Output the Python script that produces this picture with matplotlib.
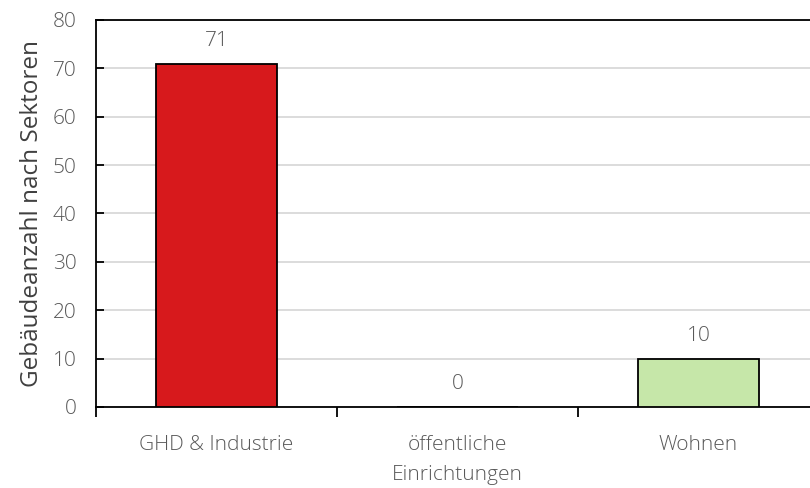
import numpy as np
import matplotlib.pyplot as plt
from matplotlib.ticker import FixedLocator

categories = ['GHD & Industrie', 'öffentliche\nEinrichtungen', 'Wohnen']
counts = [71, 0, 10]
colors = ['#d7191c', '#ffffff', '#c6e7a9']

plt.rcParams['font.family'] = ['Open Sans', 'DejaVu Sans']
grey = '#595959'

fig = plt.figure(figsize=(8.1, 4.88), dpi=100)
ax = fig.add_axes([96 / 810, 81 / 488, 723 / 810, 387 / 488])

x = np.arange(len(categories))
bars = ax.bar(x, counts, width=0.5, color=colors, edgecolor='black', linewidth=1.3, zorder=3)
for xi, v in zip(x, counts):
    ax.text(xi, v + 4.7, str(v), ha='center', va='center', fontsize=15, color=grey, fontweight='light')

ax.set_xlim(-0.5, len(categories) - 0.5)
ax.set_ylim(0, 80)
ax.set_yticks(range(0, 81, 10))
ax.yaxis.grid(True, color='#d9d9d9', linewidth=1.3, zorder=0)
ax.tick_params(axis='y', direction='in', length=6, width=1.3, labelsize=15, labelcolor=grey, pad=14)

ax.set_xticks(x)
ax.set_xticklabels(categories, fontsize=15, color=grey, fontweight='light', linespacing=1.7)
ax.tick_params(axis='x', which='major', length=0, pad=20)
ax.xaxis.set_minor_locator(FixedLocator(np.arange(-0.5, len(categories), 1.0)))
ax.tick_params(axis='x', which='minor', direction='out', length=7, width=1.3)

for s in ['left', 'bottom', 'top']:
    ax.spines[s].set_linewidth(1.3)
    ax.spines[s].set_color('black')
ax.spines['right'].set_visible(False)

ax.set_ylabel('Gebäudeanzahl nach Sektoren', fontsize=17.5, color='#404040', labelpad=6)
for lbl in ax.get_yticklabels():
    lbl.set_fontweight('light')

fig.savefig('out.png', dpi=100)
